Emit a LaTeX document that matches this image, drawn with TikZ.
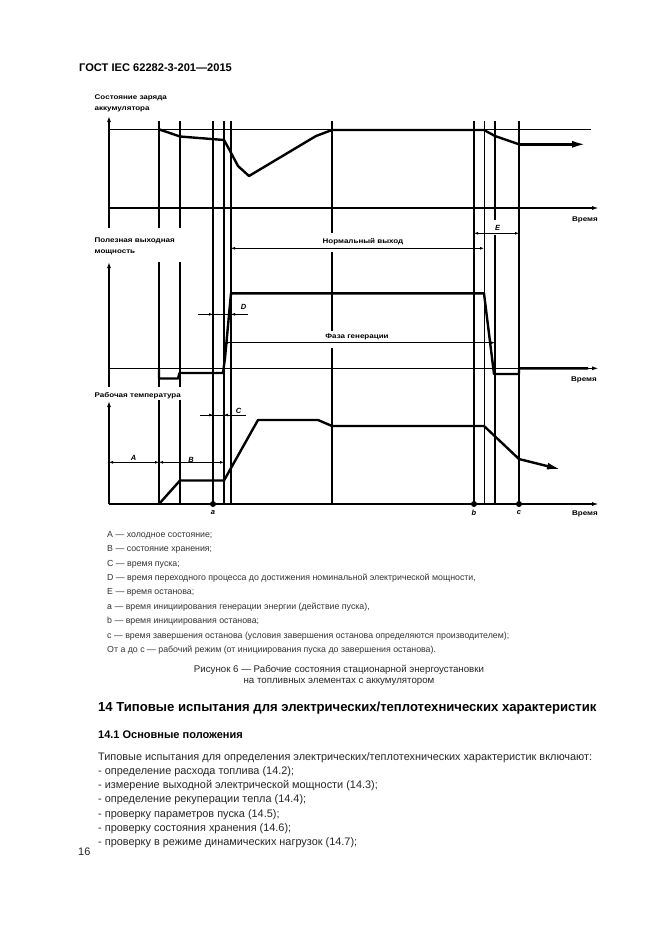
\documentclass[tikz,border=0pt]{standalone}
\usepackage{fontspec}
\setmainfont{Liberation Sans}
\newfontfamily\lblfont[FakeStretch=1.18]{Liberation Sans}
\usetikzlibrary{arrows.meta}
\tikzset{
  ax/.style={line width=1.4pt},
  axarr/.style={line width=1.4pt,-{Latex[length=7pt,width=4pt]}},
  yarr/.style={line width=1.4pt,-{Latex[length=6pt,width=4pt]}},
  vl/.style={line width=1.5pt},
  vthin/.style={line width=0.7pt},
  crv/.style={line width=2.4pt,line join=round},
  crvarr/.style={crv,-{Latex[length=14pt,width=7pt]}},
  dimln/.style={line width=0.8pt},
  dimtip/.style={line width=0.8pt,-{Latex[length=4pt,width=3pt]}},
  dimboth/.style={line width=0.8pt,{Latex[length=4pt,width=3pt]}-{Latex[length=4pt,width=3pt]}},
  lab/.style={font=\lblfont\fontsize{6.8}{10.5}\selectfont\bfseries,inner sep=0.5pt},
  ilab/.style={font=\fontsize{7.5}{9}\selectfont\bfseries\itshape,inner sep=0.5pt},
  leg/.style={font=\fontsize{8.8}{10}\selectfont,text=black!80,anchor=west,inner sep=0pt},
  body/.style={font=\fontsize{10.9}{12}\selectfont,text=black!85,anchor=west,inner sep=0pt},
  dot/.style={circle,fill=black,inner sep=0pt,minimum size=6pt}
}
\begin{document}
\begin{tikzpicture}[x=1pt,y=-1pt]
\useasboundingbox (0,0) rectangle (661,935);
\fill[white] (0,0) rectangle (661,935);

% header
\node[anchor=west,inner sep=0pt,font=\fontsize{11.1}{12}\selectfont\bfseries] (hdr) at (79,68) {ГОСТ IEC 62282-3-201—2015};

% ---------- vertical lines ----------
\foreach \x in {159,180}{
  \draw[vl] (\x,121) -- (\x,228);
  \draw[vl] (\x,262) -- (\x,387);
  \draw[vl] (\x,400) -- (\x,504);
}
\foreach \x in {213,224,231,474,519}{
  \draw[vl] (\x,121) -- (\x,504);
}
\draw[vl] (332,121) -- (332,233);
\draw[vl] (332,252) -- (332,331);
\draw[vl] (332,348) -- (332,504);
\draw[vthin] (484,121) -- (484,504);
\draw[vl] (495,121) -- (495,220);
\draw[vl] (495,235) -- (495,504);

% ---------- y axes ----------
\draw[yarr] (109,228) -- (109,116);
\draw[yarr] (109,387) -- (109,262);
\draw[yarr] (109,504) -- (109,401);

% ---------- top panel ----------
\draw[ax] (109,129.3) -- (591,129.3);
\draw[axarr] (109,208) -- (599,208);
\draw[crv] (159,129.3) -- (180,136.5) -- (224,140) -- (229,149) -- (238,166) -- (249,176)
  -- (316,136) -- (332,130) -- (484,130) -- (495,136) -- (519,144.3);
\draw[crvarr] (518,144.3) -- (586,144.3);

\node[lab,anchor=west,align=left] (soc) at (94,103.5) {Состояние заряда\\аккумулятора};
\node[lab] (t1) at (585,220) {Время};

% ---------- middle panel ----------
\draw[axarr] (109,368.3) -- (599,368.3);
\draw[crv] (159,368.3) -- (159,378.5) -- (178,378.5) -- (179.5,373) -- (223,373) -- (225,358)
  -- (231,293.3) -- (484,293.3) -- (494,374) -- (519,374) -- (519,368.3) -- (588,368.3);

\node[lab,anchor=west,align=left] (pow) at (94,246.5) {Полезная выходная\\мощность};
\node[lab] (t2) at (584,380) {Время};

% normal output
\draw[dimboth] (231,248.3) -- (484,248.3);
\node[lab,fill=white] (nv) at (363,242) {Нормальный выход};
% generation phase
\draw[dimboth] (224,342.7) -- (495,342.7);
\node[lab,fill=white] (fg) at (357,337) {Фаза генерации};
% D
\draw[dimln] (198,314.3) -- (248,314.3);
\draw[dimtip] (204,314.3) -- (213,314.3);
\draw[dimtip] (240,314.3) -- (231,314.3);
\node[ilab] (dl) at (243.5,307) {D};
% E
\draw[dimboth] (474,233.3) -- (519,233.3);
\node[ilab] (el) at (497.5,227.5) {E};

% ---------- bottom panel ----------
\draw[axarr] (109,504) -- (599,504);
\draw[crv] (159,504) -- (180,480.5) -- (224,480.5) -- (258,420) -- (318,420) -- (332,426)
  -- (484,426) -- (519,459);
\draw[crvarr] (518,458.8) -- (561,469.5);

\node[lab,anchor=west] (temp) at (94,395.5) {Рабочая температура};
\node[lab] (t3) at (585,514) {Время};

% A
\draw[dimboth] (109,462.3) -- (159,462.3);
\node[ilab] (al) at (133.5,458) {A};
% B
\draw[dimboth] (159,462.3) -- (224,462.3);
\node[ilab] (bl) at (191,459.5) {B};
% C
\draw[dimln] (200,415) -- (246,415);
\draw[dimtip] (204,415) -- (213,415);
\draw[dimtip] (233,415) -- (224,415);
\node[ilab] (cl) at (238.5,410.5) {C};

% dots and a b c
\node[dot] (pa) at (213,504) {};
\node[dot] (pb) at (474,504) {};
\node[dot] (pc) at (519,504) {};
\node[ilab] (la) at (213,513) {a};
\node[ilab] (lb) at (474,513) {b};
\node[ilab] (lc) at (519,513) {c};

% ---------- legend ----------
\node[leg] (g1) at (107,535.5) {A — холодное состояние;};
\node[leg] (g2) at (107,549.8) {B — состояние хранения;};
\node[leg] (g3) at (107,564.2) {C — время пуска;};
\node[leg] (g4) at (107,578.5) {D — время переходного процесса до достижения номинальной электрической мощности,};
\node[leg] (g5) at (107,592.8) {E — время останова;};
\node[leg] (g6) at (107,607.2) {a — время инициирования генерации энергии (действие пуска),};
\node[leg] (g7) at (107,621.5) {b — время инициирования останова;};
\node[leg] (g8) at (107,635.8) {c — время завершения останова (условия завершения останова определяются производителем);};
\node[leg] (g9) at (107,650.2) {От a до c — рабочий режим (от инициирования пуска до завершения останова).};

% caption
\node[font=\fontsize{9.7}{11}\selectfont,text=black!85,inner sep=0pt] (cap1) at (339,669.5) {Рисунок 6 — Рабочие состояния стационарной энергоустановки};
\node[font=\fontsize{9.7}{11}\selectfont,text=black!85,inner sep=0pt] (cap2) at (339,681.5) {на топливных элементах с аккумулятором};

% section
\node[anchor=west,inner sep=0pt,font=\fontsize{13.1}{14}\selectfont\bfseries] (h14) at (98,708.5) {14 Типовые испытания для электрических/теплотехнических характеристик};
\node[anchor=west,inner sep=0pt,font=\fontsize{11}{12}\selectfont\bfseries] (h141) at (98,735) {14.1 Основные положения};
\node[body] (p0) at (98,757.5) {Типовые испытания для определения электрических/теплотехнических характеристик включают:};
\node[body] (p1) at (98,771.5) {- определение расхода топлива (14.2);};
\node[body] (p2) at (98,785.8) {- измерение выходной электрической мощности (14.3);};
\node[body] (p3) at (98,800) {- определение рекуперации тепла (14.4);};
\node[body] (p4) at (98,814.3) {- проверку параметров пуска (14.5);};
\node[body] (p5) at (98,828.5) {- проверку состояния хранения (14.6);};
\node[body] (p6) at (98,842.8) {- проверку в режиме динамических нагрузок (14.7);};

\node[body] (pg) at (78,851.5) {16};
\end{tikzpicture}
\end{document}
